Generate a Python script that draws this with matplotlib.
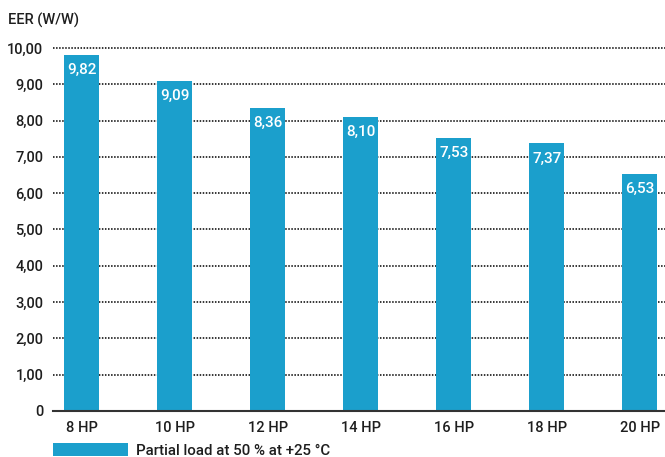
import matplotlib

matplotlib.use("Agg")

import matplotlib.pyplot as plt
from matplotlib.ticker import FixedLocator

# chart data
models = ["8 HP", "10 HP", "12 HP", "14 HP", "16 HP", "18 HP", "20 HP"]
eer = [9.82, 9.09, 8.36, 8.10, 7.53, 7.37, 6.53]
y_ticks = [0, 1, 2, 3, 4, 5, 6, 7, 8, 9, 10]
y_tick_labels = ["0", "1,00", "2,00", "3,00", "4,00", "5,00",
                 "6,00", "7,00", "8,00", "9,00", "10,00"]
series_label = "Partial load at 50 % at +25 °C"
y_title = "EER (W/W)"

BAR_COLOR = "#1b9fcc"
TEXT_COLOR = "#1e1e1e"

plt.rcParams["font.family"] = ["Roboto", "DejaVu Sans"]
plt.rcParams["font.weight"] = "medium"

fig = plt.figure(figsize=(6.65, 4.57), dpi=100)
ax = fig.add_axes([53 / 665, 1 - 411 / 457, 612 / 665, (411 - 48) / 457])

x = list(range(len(models)))
bars = ax.bar(x, eer, width=0.376, color=BAR_COLOR, label=series_label, zorder=3)

for rect, val in zip(bars, eer):
    ax.annotate(f"{val:.2f}".replace(".", ","),
                xy=(rect.get_x() + rect.get_width() / 2, rect.get_height()),
                xytext=(0, -11), textcoords="offset points",
                ha="center", va="center", color="white", fontsize=11, zorder=4)

ax.set_xlim(-0.31, 6.27)
ax.set_ylim(0, 10)
ax.yaxis.set_major_locator(FixedLocator(y_ticks))
ax.set_yticklabels(y_tick_labels)
ax.set_xticks(x)
ax.set_xticklabels(models)
ax.tick_params(axis="both", length=0, labelsize=10.5, colors=TEXT_COLOR)
ax.tick_params(axis="y", pad=7)
ax.tick_params(axis="x", pad=7)

# dotted horizontal grid, drawn over the bars
for y in y_ticks[1:]:
    ax.axhline(y, color="black", linestyle=(0, (1, 1)), linewidth=1.1,
               zorder=2, clip_on=False)

for side in ("top", "right", "left"):
    ax.spines[side].set_visible(False)
ax.spines["bottom"].set_color("#333333")
ax.spines["bottom"].set_linewidth(1.5)
ax.spines["bottom"].set_zorder(5)

fig.text(8 / 665, 1 - 20 / 457, y_title, ha="left", va="center",
         fontsize=10.5, color=TEXT_COLOR)

fig.legend(loc="lower left", bbox_to_anchor=(53 / 665, -0.002),
           frameon=False, fontsize=10.8, handlelength=5.0, handleheight=0.95,
           handletextpad=0.55, borderpad=0, borderaxespad=0,
           labelcolor=TEXT_COLOR)

fig.savefig("out.png", dpi=100)
plt.close(fig)
